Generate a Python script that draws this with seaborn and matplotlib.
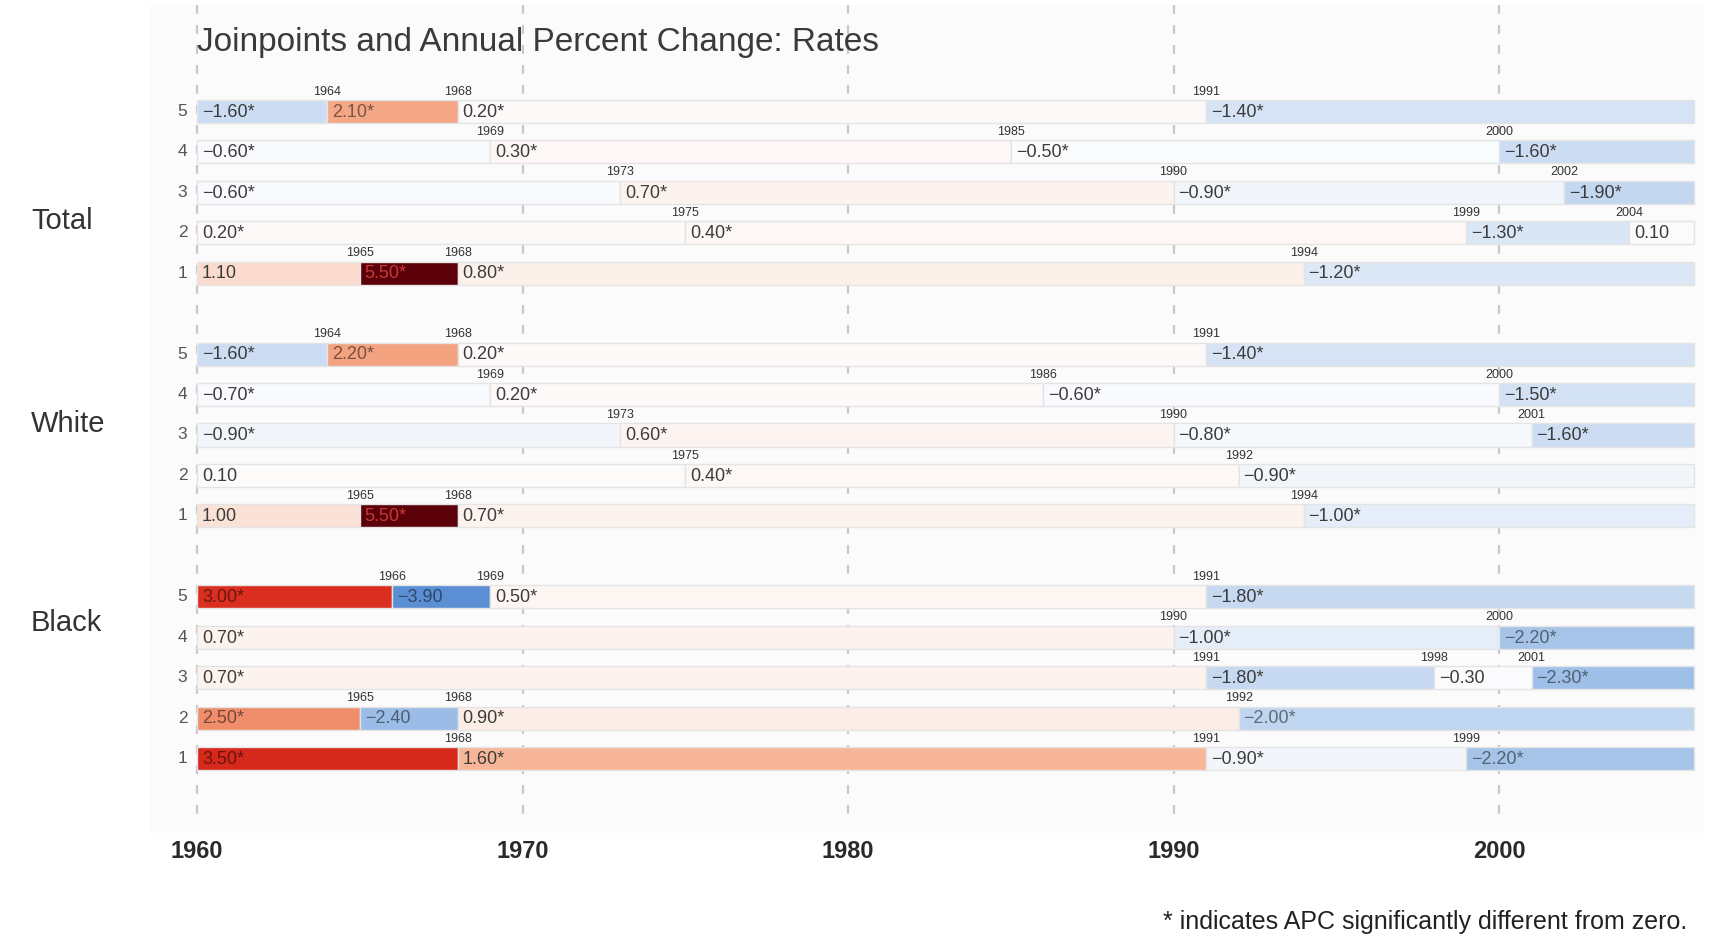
import numpy as np
import pandas as pd
import seaborn as sns
from matplotlib import pyplot as plt
from matplotlib.colors import LinearSegmentedColormap, to_rgb
from matplotlib.transforms import blended_transform_factory

sns.set_style('white')
plt.rcParams['font.family'] = ['Liberation Sans', 'DejaVu Sans']

# ---- data ----
groups = ['Total', 'White', 'Black']
row_names = [5, 4, 3, 2, 1]
first_year = 1960
last_year = 2006
decades = [1960, 1970, 1980, 1990, 2000]

# joinpoint years per row (rows 5..1)
total_joins = [[1964, 1968, 1991], [1969, 1985, 2000], [1973, 1990, 2002],
               [1975, 1999, 2004], [1965, 1968, 1994]]
total_apc = [[-1.60, 2.10, 0.20, -1.40], [-0.60, 0.30, -0.50, -1.60],
             [-0.60, 0.70, -0.90, -1.90], [0.20, 0.40, -1.30, 0.10],
             [1.10, 5.50, 0.80, -1.20]]
total_sig = [[1, 1, 1, 1], [1, 1, 1, 1], [1, 1, 1, 1], [1, 1, 1, 0], [0, 1, 1, 1]]

white_joins = [[1964, 1968, 1991], [1969, 1986, 2000], [1973, 1990, 2001],
               [1975, 1992], [1965, 1968, 1994]]
white_apc = [[-1.60, 2.20, 0.20, -1.40], [-0.70, 0.20, -0.60, -1.50],
             [-0.90, 0.60, -0.80, -1.60], [0.10, 0.40, -0.90],
             [1.00, 5.50, 0.70, -1.00]]
white_sig = [[1, 1, 1, 1], [1, 1, 1, 1], [1, 1, 1, 1], [0, 1, 1], [0, 1, 1, 1]]

black_joins = [[1966, 1969, 1991], [1990, 2000], [1991, 1998, 2001],
               [1965, 1968, 1992], [1968, 1991, 1999]]
black_apc = [[3.00, -3.90, 0.50, -1.80], [0.70, -1.00, -2.20],
             [0.70, -1.80, -0.30, -2.30], [2.50, -2.40, 0.90, -2.00],
             [3.50, 1.60, -0.90, -2.20]]
black_sig = [[1, 0, 1, 1], [1, 1, 1], [1, 1, 0, 1], [1, 0, 1, 1], [1, 1, 1, 1]]

title = 'Joinpoints and Annual Percent Change: Rates'
footnote = '* indicates APC significantly different from zero.'

# ---- build segment table ----
recs = []
for gi, (joins, apcs, sigs) in enumerate([(total_joins, total_apc, total_sig),
                                          (white_joins, white_apc, white_sig),
                                          (black_joins, black_apc, black_sig)]):
    for ri in range(len(row_names)):
        edges = [first_year] + joins[ri] + [last_year]
        for si, v in enumerate(apcs[ri]):
            recs.append(dict(group=groups[gi], row=row_names[ri],
                             ypos=gi * 6 + ri, start=edges[si], end=edges[si + 1],
                             apc=v, sig=sigs[ri][si], first=si == 0))
df = pd.DataFrame(recs)

# diverging colour scale blue -> white -> red -> dark red
anchors = [(-6, '#2c5cb0'), (-3.9, '#5d8fd5'), (-2.2, '#a3c3e8'), (-2.0, '#c0d5ef'),
           (-1.6, '#cddef3'), (-1.0, '#e4edf8'), (-0.9, '#f5f8fc'), (-0.5, '#fafbfd'),
           (0, '#fcfcfc'), (0.5, '#fdf6f3'), (0.9, '#fcefe9'), (1.0, '#fbe3d8'),
           (1.6, '#f7b799'), (2.1, '#f5a886'), (2.5, '#f1916e'),
           (3.0, '#da2e20'), (3.5, '#d7281c'), (5.5, '#5c0008'), (6, '#470006')]
cmap = LinearSegmentedColormap.from_list('apc', [((a + 6) / 12, c) for a, c in anchors])


def text_color(v, rgb):
    if v >= 5:
        return '#c43a3a'
    if abs(v) >= 2.0:
        return tuple(np.array(rgb) * 0.5)
    return '#3c3c3c'


fig = plt.figure(figsize=(17.29, 9.51), dpi=100)
ax = fig.add_axes([149 / 1729, 1 - 833 / 951, (1704 - 149) / 1729, (833 - 5) / 951])
ax.set_facecolor('#fbfbfb')
ax.set_xlim(1958.52, 2006.3)
ax.set_ylim(17.84, -2.63)

ax.vlines(decades, -2.63, 17.6, colors='#c8c8c8', linestyles=(0, (4, 5)),
          linewidth=1.6, zorder=0)

bar_h = 0.57
colors = [cmap((v + 6) / 12) for v in df['apc']]
ax.barh(df['ypos'], df['end'] - df['start'], left=df['start'], height=bar_h,
        color=colors, edgecolor='#e4e4e4', linewidth=1.0, zorder=2)

for (_, r), c in zip(df.iterrows(), colors):
    label = f"{r['apc']:.2f}".replace('-', '\u2212') + ('*' if r['sig'] else '')
    ax.text(r['start'] + 0.15, r['ypos'] + 0.02, label, fontsize=13,
            color=text_color(r['apc'], to_rgb(c)), ha='left', va='center', zorder=3)
    if not r['first']:
        ax.text(r['start'], r['ypos'] - 0.49, str(int(r['start'])), fontsize=9,
                color='#333333', ha='center', va='center', zorder=3)

for gi in range(len(groups)):
    for ri, name in enumerate(row_names):
        ax.text(1959.55, gi * 6 + ri, str(name), fontsize=12.5, color='#555555',
                ha='center', va='center')

trans = blended_transform_factory(fig.transFigure, ax.transData)
for g, yy in zip(groups, [2.72, 7.74, 12.65]):
    ax.text(31 / 1729, yy, g, transform=trans, fontsize=21, color='#333333',
            ha='left', va='center')

ax.text(1960, -1.71, title, fontsize=24, color='#3a3a3a', ha='left', va='center')

ax.set_xticks(decades)
ax.set_xticklabels([str(d) for d in decades], fontsize=17, fontweight='bold',
                   color='#2a2a2a')
ax.tick_params(axis='x', length=0, pad=5)
ax.set_yticks([])
sns.despine(ax=ax, left=True, bottom=True)

fig.text(1687 / 1729, 1 - 922 / 951, footnote, fontsize=18, color='#222222',
         ha='right', va='center')

fig.savefig('out.png', dpi=100)
